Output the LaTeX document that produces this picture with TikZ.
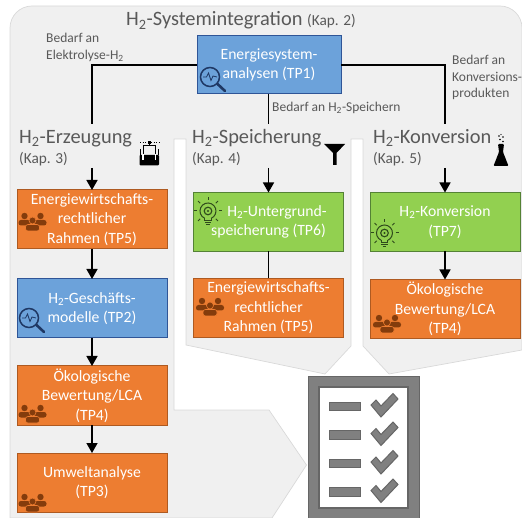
\documentclass[tikz,border=0pt]{standalone}
\usepackage{fontspec}
\setmainfont{Carlito}
\usetikzlibrary{arrows.meta,positioning}
\definecolor{panelgray}{HTML}{F0F0F0}
\definecolor{panelline}{HTML}{D9D9D9}
\definecolor{headgray}{HTML}{595959}
\definecolor{orangefill}{HTML}{ED7D31}
\definecolor{orangeline}{HTML}{AE5A21}
\definecolor{bluefill}{HTML}{6CA2DA}
\definecolor{blueline}{HTML}{2F5597}
\definecolor{greenfill}{HTML}{92D050}
\definecolor{greenline}{HTML}{548235}
\definecolor{peoplecol}{HTML}{843C0C}
\definecolor{lenscol}{HTML}{1F3864}
\definecolor{bulbcol}{HTML}{2F4A1C}
\definecolor{listgray}{HTML}{808080}
\definecolor{listline}{HTML}{666666}
\newcommand{\Hzwo}{H\textsubscript{2}}
\tikzset{
  people/.pic={
    \foreach \px in {-8,8} {
      \fill [peoplecol] (\px,-6) circle (3.2pt);
      \fill [peoplecol, rounded corners=2.5pt] (\px-6,3.5) -- (\px-6,-2) -- (\px+6,-2) -- (\px+6,3.5) -- cycle;
    }
    \fill [peoplecol, draw=orangefill, line width=.6pt] (0,-1.5) circle (3.5pt);
    \fill [peoplecol, draw=orangefill, line width=.6pt, rounded corners=2.5pt] (-7,9) -- (-7,2.5) -- (7,2.5) -- (7,9) -- cycle;
  },
  lens/.pic={
    \draw [lenscol, line width=1.5pt] (0,0) circle (9.5pt);
    \draw [lenscol, line width=2.6pt, line cap=round] (7.5,7) -- (15,14);
    \draw [lenscol, line width=.8pt] (-7,0) -- (-3.5,0) -- (-1.5,-4) -- (1,3.5) -- (3,-1) -- (7,0);
  },
  bulb/.pic={
    \draw [bulbcol, line width=1pt] (-3.4,7.25) arc (245:-65:8pt);
    \draw [bulbcol, line width=1pt] (-3.4,7.25) -- (-3.4,9.5) -- (3.4,9.5) -- (3.4,7.25);
    \draw [bulbcol, line width=1pt] (-3.2,11.5) -- (3.2,11.5) (-1.8,13.8) -- (1.8,13.8);
    \draw [bulbcol, line width=1.1pt] (0,0) circle (3.8pt);
    \fill [bulbcol] (0,0) circle (1.2pt);
    \foreach \a in {0,45,135,180,225,270,315}
      \draw [bulbcol, line width=1pt] (\a:11) -- (\a:14);
  }
}
\begin{document}
\begin{tikzpicture}
      [x=1pt, y=-1pt, >={Triangle[width=11pt,length=10pt]},
      panel/.style={draw=panelline, fill=panelgray, line width=.7pt},
      tpbox/.style={rectangle, draw, line width=1pt, text=white, align=center,
        minimum width=150pt, minimum height=59pt, inner sep=0pt, outer sep=0pt,
        font=\fontsize{15.7}{19.4}\selectfont},
      orangebox/.style={tpbox, fill=orangefill, draw=orangeline},
      bluebox/.style={tpbox, fill=bluefill, draw=blueline},
      greenbox/.style={tpbox, fill=greenfill, draw=greenline},
      heading/.style={text=headgray, anchor=base west, inner sep=0pt,
        font=\fontsize{20.4}{24}\selectfont},
      chapter/.style={text=headgray, anchor=base west, inner sep=0pt,
        font=\fontsize{15.3}{17}\selectfont},
      demand/.style={text=headgray, anchor=west, align=left, inner sep=0pt,
        font=\fontsize{13.5}{16.7}\selectfont},
      flow/.style={line width=1.5pt, black}]

      \useasboundingbox (0,0) rectangle (522,518);
      \clip (0,0) rectangle (522,518);

      % grey panel with the three columns
      \draw [panel] (10,518) [rounded corners=22pt] -- (10,6) -- (522,6) [sharp corners] -- (522,350)
      -- (389,374) -- (363,346) -- (363,139) -- (351,139) -- (351,346) -- (325,374) -- (186,345)
      -- (186,139) -- (174,139) -- (174,410) -- (269,410) -- (306.5,465) -- (272,518) -- cycle;

      % boxes
      \node [bluebox, minimum width=144pt, minimum height=58pt] (TPa) at (269,65) {Energiesystem-\\analysen (TP1)};

      \node [orangebox] (TPe) at (92,219.5) {Energiewirtschafts-\\rechtlicher\\Rahmen (TP5)};
      \node [bluebox, below=30pt of TPe] (TPb) {\Hzwo-Geschäfts-\\modelle (TP2)};
      \node [orangebox, below=28pt of TPb] (TPd) {Ökologische\\Bewertung/LCA\\(TP4)};
      \node [orangebox, below=28pt of TPd] (TPc) {Umweltanalyse\\(TP3)};

      \node [greenbox] (TPf) at (268.5,222) {\hspace*{17pt}\Hzwo-Untergrund-\\speicherung (TP6)};
      \node [orangebox, below=27pt of TPf] (TPg) {Energiewirtschafts-\\rechtlicher\\Rahmen (TP5)};

      \node [greenbox] (TPh) at (445,222) {\Hzwo-Konversion\\(TP7)};
      \node [orangebox, below=28pt of TPh] (TPi) {Ökologische\\Bewertung/LCA\\(TP4)};

      % headings
      \node [heading] (sys) at (126,26) {\Hzwo-Systemintegration \fontsize{15.3}{17}\selectfont(Kap. 2)};
      \node [heading] (erz) at (19,143.5) {\Hzwo-Erzeugung};
      \node [chapter] (erzk) at (19,163.5) {(Kap. 3)};
      \node [heading] (spe) at (192,143.5) {\Hzwo-Speicherung};
      \node [chapter] (spek) at (192,163.5) {(Kap. 4)};
      \node [heading] (kon) at (373,143.5) {\Hzwo-Konversion};
      \node [chapter] (konk) at (373,163.5) {(Kap. 5)};

      % demand labels
      \node [demand] (bela) at (46,47.5) {Bedarf an\\Elektrolyse-\Hzwo};
      \node [demand] (belb) at (272,108) {Bedarf an \Hzwo-Speichern};
      \node [demand] (belc) at (452,77.5) {Bedarf an\\Konversions-\\produkten};

      % connectors
      \coordinate (erzin) at (92,124);
      \coordinate (erzout) at (92,168);
      \coordinate (spein) at (268.5,124);
      \coordinate (speout) at (268.5,168);
      \coordinate (konin) at (445,124);
      \coordinate (konout) at (445,168);

      \draw [flow] (TPa.west) -| (erzin);
      \draw [flow] (TPa.south -| spein) -- (spein);
      \draw [flow] (TPa.east) -| (konin);
      \draw [flow, ->] (erzout) -- (TPe);
      \draw [flow, ->] (speout) -- (TPf);
      \draw [flow, ->] (konout) -- (TPh);
      \draw [flow, ->] (TPe) -- (TPb);
      \draw [flow, ->] (TPb) -- (TPd);
      \draw [flow, ->] (TPd) -- (TPc);
      \draw [flow] (TPf) -- (TPg);
      \draw [flow, ->] (TPh) -- (TPi);

      % icons in the boxes
      \pic at (32.5,222) {people};
      \pic at (32.5,414) {people};
      \pic at (32.5,503) {people};
      \pic at (210,307) {people};
      \pic at (387,324) {people};
      \pic at (210,77) {lens};
      \pic at (29,318) {lens};
      \pic at (208,211) {bulb};
      \pic at (384.5,233) {bulb};

      % electrolyser
      \draw [black, line width=.8pt] (140,155) -- (140,149) (158.5,155) -- (158.5,149);
      \draw [black, line width=1pt] (143,156) -- (143,146) -- (155.5,146) -- (155.5,156);
      \draw [black, line width=.7pt, dotted] (140,142) -- (159,142);
      \draw [black, line width=1pt] (149.2,142) -- (149.2,146);
      \fill [black] (147.7,141) rectangle (150.7,144);
      \fill [black, rounded corners=1pt] (139.5,155) rectangle (159,165.5);
      \draw [white, line width=1.2pt] (143,154) -- (143,160) (155.5,154) -- (155.5,160);

      % funnel
      \fill [black] (324,144) -- (345,144) -- (336.5,153) -- (336.5,165) -- (333,165) -- (333,153) -- cycle;

      % flask
      \fill [black, rounded corners=1pt] (498,144) -- (499,152) -- (493.5,166) -- (508.5,166) -- (503,152) -- (504,144) -- cycle;
      \fill [black] (499,136) circle (.9pt) (503,137) circle (.8pt) (500,139.5) circle (.8pt) (503,141.5) circle (.8pt) (501,134.5) circle (.7pt);

      % check list
      \fill [listgray, draw=listline, line width=.7pt] (308,376) rectangle (419,525);
      \fill [white, draw=listline, line width=1.2pt] (319,387) rectangle (408,508);
      \foreach \y in {406.5,435,463.5,492} {
        \draw [fill=listgray, draw=listline, line width=1pt] (329,\y-4.2) rectangle (360.5,\y+4.2);
        \draw [fill=listgray, draw=listline, line width=1pt] (371,\y-1.5) -- (381,\y+10.5) -- (398,\y-7.5) -- (393,\y-13) -- (381,\y-0.5) -- (376,\y-6.5) -- cycle;
      }
    \end{tikzpicture}
\end{document}
